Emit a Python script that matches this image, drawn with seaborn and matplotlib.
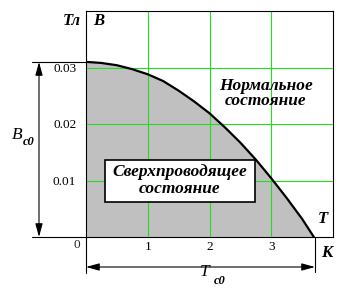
import numpy as np
import pandas as pd
import seaborn as sns
import matplotlib
matplotlib.use("Agg")
import matplotlib.pyplot as plt
from matplotlib.lines import Line2D
from matplotlib.patches import Rectangle, FancyArrowPatch

# Data: critical field curve
T_vals = [0.0, 0.25, 0.5, 0.75, 1.0, 1.25, 1.5, 1.75, 2.0, 2.25, 2.5, 2.75, 3.0, 3.25, 3.5, 3.69]
B_vals = [0.0310, 0.0308, 0.0304, 0.0297, 0.0288, 0.0276, 0.0259, 0.0240, 0.0219, 0.0194,
          0.0167, 0.0137, 0.0104, 0.0069, 0.0032, 0.0]
x_ticks = [1, 2, 3]
x_tick_labels = ["1", "2", "3"]
y_ticks = [0.01, 0.02, 0.03]
y_tick_labels = ["0.01", "0.02", "0.03"]

sns.set_style("white")
plt.rcParams['font.family'] = ['Liberation Serif', 'DejaVu Serif']

W, H = 350, 297
fig = plt.figure(figsize=(W / 100, H / 100), dpi=100)
fig.patch.set_facecolor("white")

def fx(x):
    return x / W

def fy(y):
    return 1 - y / H

ax = fig.add_axes([fx(86), fy(237), 247 / W, 226 / H])
df = pd.DataFrame({"T": T_vals, "B": B_vals})

ax.fill_between(df["T"], df["B"], 0, color="#c0c0c0", lw=0, zorder=1)
sns.lineplot(data=df, x="T", y="B", ax=ax, color="black", lw=1.6, zorder=4)
ax.set_xlabel("")
ax.set_ylabel("")
ax.set_xlim(0, 4)
ax.set_ylim(0, 0.04)
ax.set_xticks(x_ticks)
ax.set_xticklabels(x_tick_labels)
ax.set_yticks(y_ticks)
ax.set_yticklabels(y_tick_labels)
ax.set_axisbelow(False)
ax.grid(True, color="#22dd22", lw=0.8)
ax.tick_params(length=0, labelsize=9.5, colors="black")
ax.tick_params(axis="y", pad=7)
ax.tick_params(axis="x", pad=3)
for s in ax.spines.values():
    s.set_visible(True)
    s.set_color("black")
    s.set_linewidth(0.8)
    s.set_zorder(5)

def line(x1, y1, x2, y2, lw=0.8):
    fig.add_artist(Line2D([fx(x1), fx(x2)], [fy(y1), fy(y2)], transform=fig.transFigure,
                          color="black", lw=lw))

def arrow(x1, y1, x2, y2):
    fig.add_artist(FancyArrowPatch((fx(x1), fy(y1)), (fx(x2), fy(y2)), transform=fig.transFigure,
                                   arrowstyle="<|-|>,head_length=0.8,head_width=0.22",
                                   mutation_scale=10, color="black", lw=0.8,
                                   shrinkA=0, shrinkB=0))

line(32, 237, 86, 237)
line(32, 62, 86, 62)
line(86, 237, 86, 273)
line(315, 237, 315, 272)
arrow(39, 62, 39, 237)
arrow(86, 267, 315, 267)

bi = dict(fontweight="bold", fontstyle="italic", color="black")

fig.text(fx(77), fy(245), "0", ha="center", va="center", fontsize=9.5)
fig.text(fx(72), fy(21), "Тл", ha="center", va="center", fontsize=12, **bi)
fig.text(fx(99), fy(21), "B", ha="center", va="center", fontsize=12, **bi)
fig.text(fx(323), fy(219), "T", ha="center", va="center", fontsize=12, **bi)
fig.text(fx(327), fy(253), "К", ha="center", va="center", fontsize=12, **bi)

fig.text(fx(17), fy(135), "B", ha="center", va="center", fontsize=12.5,
         fontstyle="italic", color="black")
fig.text(fx(29), fy(142), "c0", ha="center", va="center", fontsize=9, **bi)
fig.text(fx(205), fy(272), "T", ha="center", va="center", fontsize=12.5,
         fontstyle="italic", color="black")
fig.text(fx(220), fy(281), "c0", ha="center", va="center", fontsize=9, **bi)

fig.text(fx(266), fy(86), "Нормальное", ha="center", va="center", fontsize=12.5, **bi)
fig.text(fx(266), fy(101), "состояние", ha="center", va="center", fontsize=12.5, **bi)

fig.add_artist(Rectangle((fx(105), fy(202)), (255 - 105) / W, (202 - 160) / H,
                         transform=fig.transFigure, facecolor="white",
                         edgecolor="black", lw=1.2, zorder=5))
fig.text(fx(180), fy(172), "Сверхпроводящее", ha="center", va="center", fontsize=12.5,
         zorder=6, **bi)
fig.text(fx(180), fy(189), "состояние", ha="center", va="center", fontsize=12.5,
         zorder=6, **bi)

fig.savefig("out.png", dpi=100)
